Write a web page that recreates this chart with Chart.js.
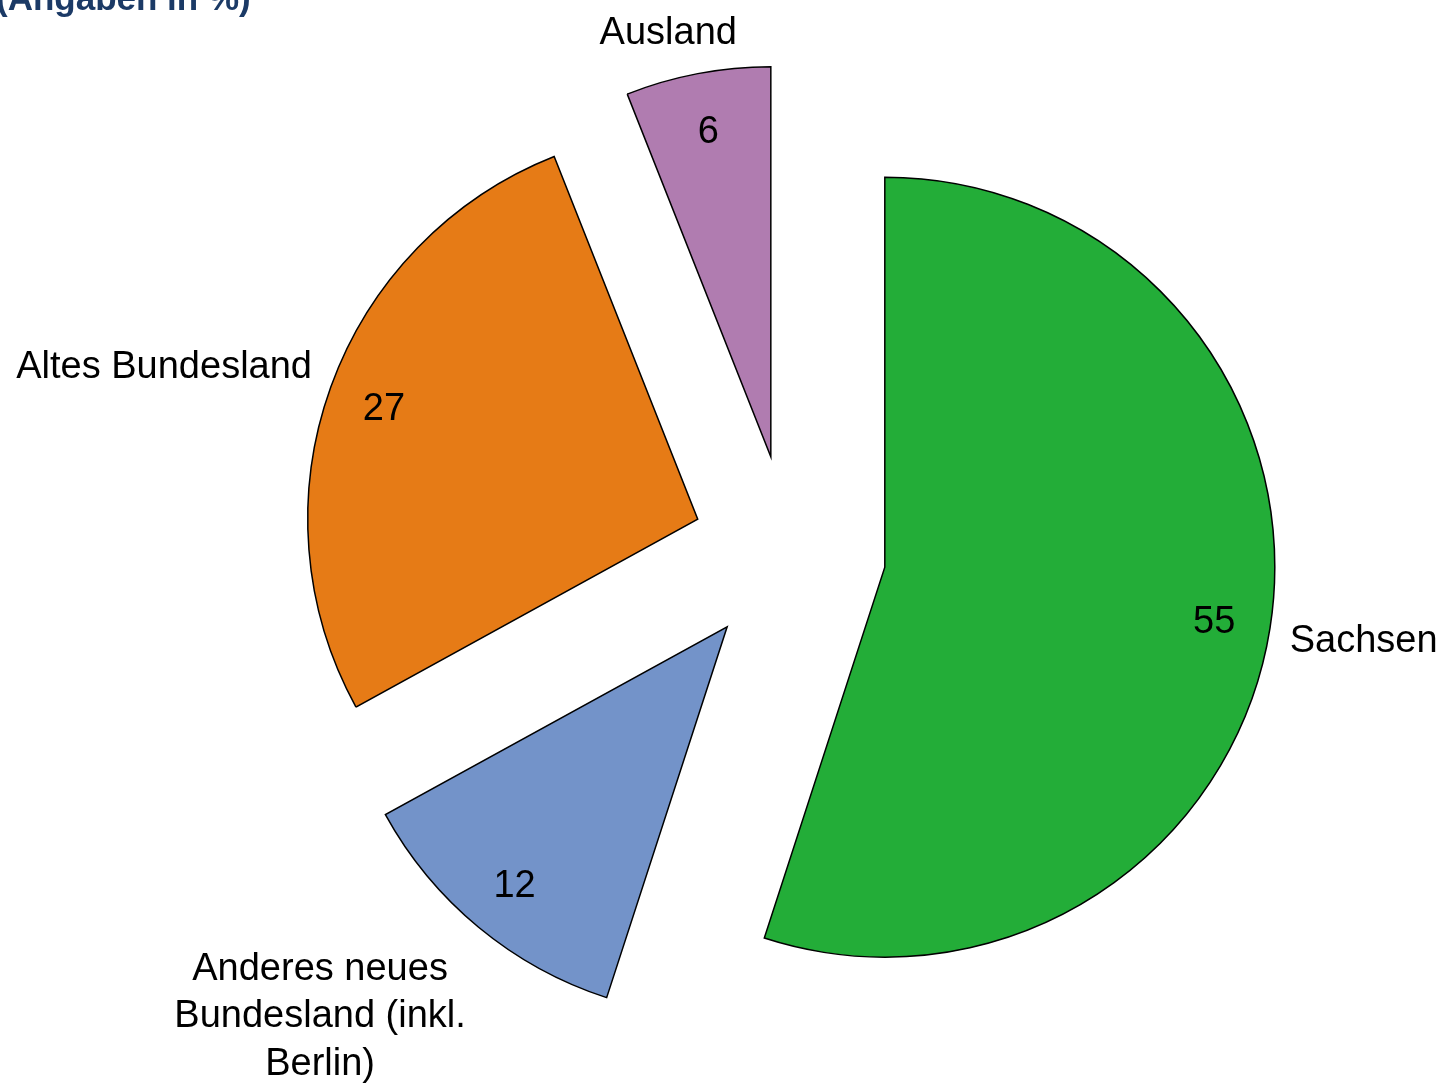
<!DOCTYPE html>
<html><head><meta charset="utf-8">
<script src="https://cdn.jsdelivr.net/npm/chart.js@4"></script>
<style>html,body{margin:0;padding:0;background:#fff;overflow:hidden}canvas{display:block}</style>
</head><body>
<canvas id="c" width="1446" height="1084"></canvas>
<script>
// ---- data ----
const categories = ['Sachsen', 'Anderes neues Bundesland (inkl. Berlin)', 'Altes Bundesland', 'Ausland'];
const categoryLines = [['Sachsen'], ['Anderes neues', 'Bundesland (inkl.', 'Berlin)'], ['Altes Bundesland'], ['Ausland']];
const shares = [55, 12, 27, 6];
const sliceColors = ['#23AD38', '#7393C9', '#E67B16', '#B07CB0'];
const chartTitle = '(Angaben in %)';

// ---- style ----
const FONT = '"Liberation Sans", Arial, sans-serif';
const EXPLODE = 97;       // px each slice is pulled out
const LABEL_FONT = 38;
const LINE_H = 47.5;
const TEXT_DY = 3;        // visual centring of glyphs

const explodedPie = {
  id: 'explodedPie',
  beforeDatasetDraw(chart, args) {
    const ctx = chart.ctx;
    args.meta.data.forEach(arc => {
      const mid = (arc.startAngle + arc.endAngle) / 2;
      ctx.save();
      ctx.translate(Math.cos(mid) * EXPLODE, Math.sin(mid) * EXPLODE);
      arc.draw(ctx, chart.chartArea);
      ctx.restore();
    });
    return false;
  },
  afterDatasetsDraw(chart) {
    const ctx = chart.ctx;
    const meta = chart.getDatasetMeta(0);
    ctx.save();
    ctx.font = LABEL_FONT + 'px ' + FONT;
    ctx.fillStyle = '#000';
    ctx.textAlign = 'center';
    ctx.textBaseline = 'middle';
    const clamp = v => Math.max(-1, Math.min(1, v * 2));
    meta.data.forEach((arc, i) => {
      const mid = (arc.startAngle + arc.endAngle) / 2;
      const ux = Math.cos(mid), uy = Math.sin(mid);
      const ax = arc.x + ux * EXPLODE, ay = arc.y + uy * EXPLODE;
      const R = arc.outerRadius;
      ctx.fillText(String(shares[i]), ax + ux * R * 0.855, ay + uy * R * 0.855 + TEXT_DY);
      const lines = categoryLines[i];
      const w = Math.max(...lines.map(l => ctx.measureText(l).width));
      const h = lines.length * LINE_H;
      const px = ax + ux * (R + 20), py = ay + uy * (R + 20);
      const cx = px + clamp(ux) * w / 2, cy = py + clamp(uy) * h / 2 + TEXT_DY;
      lines.forEach((l, j) => ctx.fillText(l, cx, cy - h / 2 + LINE_H * (j + 0.5)));
    });
    ctx.font = 'bold 35px ' + FONT;
    ctx.fillStyle = '#1B3A66';
    ctx.textAlign = 'left';
    ctx.textBaseline = 'alphabetic';
    ctx.fillText(chartTitle, -4, 10);
    ctx.restore();
  }
};

new Chart(document.getElementById('c'), {
  type: 'pie',
  data: {
    labels: categories,
    datasets: [{
      data: shares,
      backgroundColor: sliceColors,
      borderColor: '#000',
      borderWidth: 1.5,
      borderJoinStyle: 'miter'
    }]
  },
  options: {
    responsive: false,
    animation: false,
    radius: 390,
    layout: { padding: { left: 132, top: 20, right: 0, bottom: 0 } },
    plugins: { legend: { display: false }, tooltip: { enabled: false }, title: { display: false } }
  },
  plugins: [explodedPie]
});
</script>
</body></html>
